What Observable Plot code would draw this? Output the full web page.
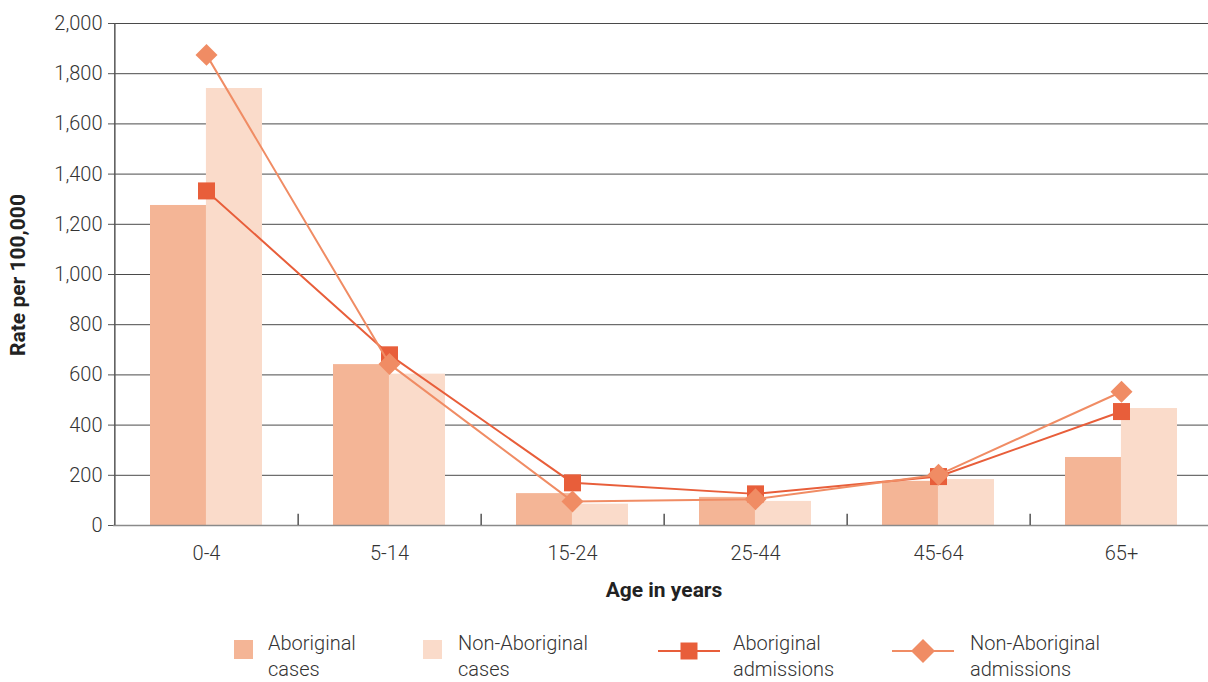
<!DOCTYPE html>
<html>
<head>
<meta charset="utf-8">
<script src="https://cdn.jsdelivr.net/npm/d3@7"></script>
<script src="https://cdn.jsdelivr.net/npm/@observablehq/plot@0.6"></script>
<style>
  body { margin: 0; background: #fff; }
  #wrap { position: relative; width: 1208px; height: 682px; overflow: hidden; font-family: Roboto, "Noto Sans", sans-serif; color: #333; }
  #chart svg { display: block; max-width: none !important; height: 610px !important; }
  .ytitle { position: absolute; left: 18px; top: 275px; transform: translate(-50%, -50%) rotate(-90deg); font-weight: 700; font-size: 21px; white-space: nowrap; color: #222; }
  .xtitle { position: absolute; left: 664px; top: 590px; transform: translate(-50%, -50%); font-weight: 700; font-size: 21px; white-space: nowrap; color: #222; }
  .leg { position: absolute; top: 630px; font-size: 20px; font-weight: 300; line-height: 26px; color: #333; white-space: nowrap; }
  .sw { position: absolute; }
</style>
</head>
<body>
<div id="wrap">
  <div id="chart"></div>
  <div class="ytitle">Rate per 100,000</div>
  <div class="xtitle">Age in years</div>
  <div id="legend"></div>
</div>
<script>
const categories = ["0-4", "5-14", "15-24", "25-44", "45-64", "65+"];
const aboriginalCases = [1275, 641, 127, 112, 176, 271];
const nonAboriginalCases = [1741, 603, 85, 96, 183, 466];
const aboriginalAdmissions = [1333, 680, 170, 126, 195, 454];
const nonAboriginalAdmissions = [1875, 643, 96, 105, 202, 533];
const yTicks = [0, 200, 400, 600, 800, 1000, 1200, 1400, 1600, 1800, 2000];
const seriesNames = ["Aboriginal cases", "Non-Aboriginal cases", "Aboriginal admissions", "Non-Aboriginal admissions"];
const colors = ["#F4B596", "#FADBCA", "#E85E3A", "#F08C64"];

const W = 1213, ML = 113, MR = 0;
const step = (W - ML - MR) / categories.length;
const padInner = 0.39;
const half = step * (1 - padInner) / 2;

const rows = categories.map((c, i) => ({
  cat: c,
  ac: aboriginalCases[i],
  nc: nonAboriginalCases[i],
  aa: aboriginalAdmissions[i],
  na: nonAboriginalAdmissions[i]
}));

const chart = Plot.plot({
  width: W,
  height: 610,
  marginLeft: ML,
  marginRight: MR,
  marginTop: 23,
  marginBottom: 85,
  style: { fontFamily: "Roboto, sans-serif", fontSize: "20px", fontWeight: 300, color: "#333", background: "#fff", maxWidth: "none" },
  x: { type: "band", domain: categories, paddingInner: padInner, paddingOuter: padInner / 2, label: null },
  y: { domain: [0, 2000], label: null },
  marks: [
    Plot.ruleY(yTicks.filter(d => d > 0), { stroke: "#4a4a4a", strokeWidth: 1 }),
    Plot.barY(rows, { x: "cat", y: "ac", fill: colors[0], insetRight: half }),
    Plot.barY(rows, { x: "cat", y: "nc", fill: colors[1], insetLeft: half }),
    Plot.ruleY([0], { stroke: "#8a8a8a", strokeWidth: 1.5 }),
    Plot.ruleX([categories[0]], { x: d => d, dx: -step / 2, y1: 0, y2: 2000, stroke: "#555", strokeWidth: 1.5 }),
    Plot.ruleX(categories, { x: d => d, dx: step / 2, y1: 0, y2: 45, stroke: "#555", strokeWidth: 1.5 }),
    Plot.axisY({ ticks: yTicks, tickFormat: d3.format(","), tickSize: 5, tickPadding: 6, label: null, stroke: "#555", fill: "#333" }),
    Plot.axisX({ tickSize: 0, tickPadding: 20, label: null, fill: "#333" }),
    Plot.line(rows, { x: "cat", y: "aa", stroke: colors[2], strokeWidth: 2 }),
    Plot.dot(rows, { x: "cat", y: "aa", symbol: "square", r: 9.6, fill: colors[2], stroke: "none" }),
    Plot.line(rows, { x: "cat", y: "na", stroke: colors[3], strokeWidth: 2 }),
    Plot.dot(rows, { x: "cat", y: "na", symbol: "diamond2", r: 9.9, fill: colors[3], stroke: "none" })
  ]
});
document.getElementById("chart").appendChild(chart);

// Legend
const legend = document.getElementById("legend");
const legendItems = [
  { name: seriesNames[0], kind: "rect", color: colors[0], sx: 234, tx: 268 },
  { name: seriesNames[1], kind: "rect", color: colors[1], sx: 423, tx: 458 },
  { name: seriesNames[2], kind: "square", color: colors[2], sx: 658, tx: 733 },
  { name: seriesNames[3], kind: "diamond", color: colors[3], sx: 892, tx: 970 }
];
for (const it of legendItems) {
  const words = it.name.split(" ");
  const t = document.createElement("div");
  t.className = "leg";
  t.style.left = it.tx + "px";
  t.innerHTML = words.slice(0, -1).join(" ") + "<br>" + words[words.length - 1];
  legend.appendChild(t);
  const ns = "http://www.w3.org/2000/svg";
  const s = document.createElementNS(ns, "svg");
  s.setAttribute("class", "sw");
  if (it.kind === "rect") {
    s.setAttribute("width", 19); s.setAttribute("height", 19);
    s.style.left = it.sx + "px"; s.style.top = "640px";
    const r = document.createElementNS(ns, "rect");
    r.setAttribute("width", 19); r.setAttribute("height", 19); r.setAttribute("fill", it.color);
    s.appendChild(r);
  } else {
    s.setAttribute("width", 62); s.setAttribute("height", 26);
    s.style.left = it.sx + "px"; s.style.top = "638px";
    const l = document.createElementNS(ns, "line");
    l.setAttribute("x1", 0); l.setAttribute("x2", 62); l.setAttribute("y1", 13); l.setAttribute("y2", 13);
    l.setAttribute("stroke", it.color); l.setAttribute("stroke-width", 2);
    s.appendChild(l);
    const p = document.createElementNS(ns, "path");
    if (it.kind === "square") p.setAttribute("d", "M22.5,4.5h17v17h-17z");
    else p.setAttribute("d", "M31,1L43,13L31,25L19,13z");
    p.setAttribute("fill", it.color);
    s.appendChild(p);
  }
  legend.appendChild(s);
}
</script>
</body>
</html>
